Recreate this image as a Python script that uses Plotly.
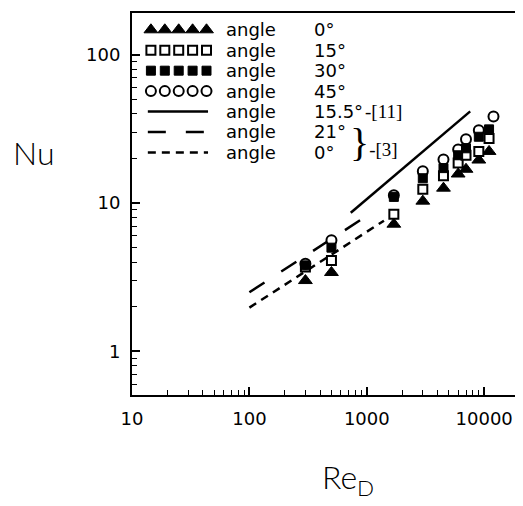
import plotly.graph_objects as go

# ---------------- data ----------------
RE = [300, 500, 1700, 3000, 4500, 6000, 7000, 9000, 11000]
NU_0 = [3.0, 3.4, 7.2, 10.3, 12.6, 15.7, 16.9, 19.5, 22.3]
NU_15 = [3.7, 4.1, 8.4, 12.4, 15.3, 18.6, 21.0, 22.3, 27.3]
NU_30 = [3.8, 5.0, 11.0, 14.7, 17.2, 21.0, 23.4, 28.0, 31.4]
RE_45 = [300, 500, 1700, 3000, 4500, 6000, 7000, 9000, 12000]
NU_45 = [3.9, 5.6, 11.3, 16.4, 19.7, 23.0, 26.9, 31.0, 38.4]

RE_SOLID = [730, 7600]      # angle 15.5°, ref [11]
NU_SOLID = [8.6, 41.5]
RE_LONG = [100, 1150]       # angle 21°, ref [3]
NU_LONG = [2.5, 8.8]
RE_SHORT = [100, 1400]      # angle 0°, ref [3]
NU_SHORT = [1.97, 7.6]

X_TICKS = [10, 100, 1000, 10000]
X_TICK_TEXT = ["10", "100", "1000", "10000"]
Y_TICKS = [1, 10, 100]
Y_TICK_TEXT = ["1", "10", "100"]

LEGEND_ANGLES = ["0°", "15°", "30°", "45°", "15.5°", "21°", "0°"]

# ---------------- style ----------------
FONT = "DejaVu Sans"
BLACK = "black"
LONG_DASH = "18px,20px"
SHORT_DASH = "8px,6px"

tri = dict(symbol="triangle-up", size=12, color=BLACK, line=dict(color=BLACK, width=1))
sq_open = dict(symbol="square", size=9, color="white", line=dict(color=BLACK, width=2))
sq_fill = dict(symbol="square", size=9, color=BLACK, line=dict(color=BLACK, width=1))
circ = dict(symbol="circle", size=10, color="white", line=dict(color=BLACK, width=2))

fig = go.Figure()

# data lines
fig.add_trace(go.Scatter(x=RE_SOLID, y=NU_SOLID, mode="lines",
                         line=dict(color=BLACK, width=2.5), showlegend=False))
fig.add_trace(go.Scatter(x=RE_LONG, y=NU_LONG, mode="lines",
                         line=dict(color=BLACK, width=2.5, dash=LONG_DASH), showlegend=False))
fig.add_trace(go.Scatter(x=RE_SHORT, y=NU_SHORT, mode="lines",
                         line=dict(color=BLACK, width=2.5, dash=SHORT_DASH), showlegend=False))

# data points
fig.add_trace(go.Scatter(x=RE, y=NU_0, mode="markers", marker=tri, showlegend=False))
fig.add_trace(go.Scatter(x=RE, y=NU_15, mode="markers", marker=sq_open, showlegend=False))
fig.add_trace(go.Scatter(x=RE_45, y=NU_45, mode="markers", marker=circ, showlegend=False))
fig.add_trace(go.Scatter(x=RE, y=NU_30, mode="markers", marker=sq_fill, showlegend=False))

# ---------------- hand-made legend on an overlay (fractional) axis ----------------
ROW0 = 0.956
ROW_STEP = 0.0535
rows = [ROW0 - i * ROW_STEP for i in range(7)]
SYM_X = [0.049 + 0.036 * k for k in range(5)]
LINE_X = [0.041, 0.197]
TEXT_X = 0.238
ANGLE_X = 0.466

for r, m in zip(rows[:4], [tri, sq_open, sq_fill, circ]):
    fig.add_trace(go.Scatter(x=SYM_X, y=[r] * 5, mode="markers", marker=m,
                             xaxis="x2", yaxis="y2", showlegend=False, hoverinfo="skip"))
for r, d in zip(rows[4:], ["solid", LONG_DASH, SHORT_DASH]):
    fig.add_trace(go.Scatter(x=LINE_X, y=[r, r], mode="lines",
                             line=dict(color=BLACK, width=2.5, dash=d),
                             xaxis="x2", yaxis="y2", showlegend=False, hoverinfo="skip"))

annotations = []
for r, a in zip(rows, LEGEND_ANGLES):
    annotations.append(dict(x=TEXT_X, y=r, xref="paper", yref="paper", text="angle",
                            xanchor="left", yanchor="middle", showarrow=False,
                            font=dict(family=FONT, size=18, color=BLACK)))
    annotations.append(dict(x=ANGLE_X, y=r, xref="paper", yref="paper", text=a,
                            xanchor="left", yanchor="middle", showarrow=False,
                            font=dict(family=FONT, size=18, color=BLACK)))
# references
annotations.append(dict(x=0.598, y=rows[4], xref="paper", yref="paper", text="-[11]",
                        xanchor="left", yanchor="middle", showarrow=False,
                        font=dict(family="Liberation Serif", size=19, color=BLACK)))
annotations.append(dict(x=0.560, y=(rows[5] + rows[6]) / 2, xref="paper", yref="paper",
                        text="<span style='font-size:40px'>}</span>-[3]",
                        xanchor="left", yanchor="middle", showarrow=False,
                        font=dict(family="Liberation Serif", size=19, color=BLACK)))
# axis titles
annotations.append(dict(x=-0.255, y=0.635, xref="paper", yref="paper", text="Nu",
                        xanchor="center", yanchor="middle", showarrow=False,
                        font=dict(family="Lato", size=32, color=BLACK, weight=300)))
annotations.append(dict(x=0.56, y=-0.22, xref="paper", yref="paper", text="Re<sub>D</sub>",
                        xanchor="center", yanchor="middle", showarrow=False,
                        font=dict(family="Lato", size=32, color=BLACK, weight=300)))

axis_common = dict(showline=True, linecolor=BLACK, linewidth=2, mirror=True,
                   ticks="inside", ticklen=8, tickwidth=1.5, tickcolor=BLACK,
                   showgrid=False, zeroline=False,
                   tickfont=dict(family=FONT, size=18, color=BLACK),
                   minor=dict(ticks="inside", ticklen=5, tickwidth=1.2, tickcolor=BLACK,
                              dtick="D1", showgrid=False))

# the page body adds an 8px offset, so the figure is 8px smaller on each side
fig.update_layout(
    width=515, height=498,
    margin=dict(l=124, r=5, t=3, b=111),
    paper_bgcolor="white", plot_bgcolor="white",
    showlegend=False,
    xaxis=dict(type="log", range=[1.0, 4.288], tickvals=X_TICKS, ticktext=X_TICK_TEXT,
               ticklabelstandoff=6, **axis_common),
    yaxis=dict(type="log", range=[-0.295, 2.282], tickvals=Y_TICKS, ticktext=Y_TICK_TEXT,
               ticklabelstandoff=6, **axis_common),
    xaxis2=dict(range=[0, 1], overlaying="x", anchor="y2", visible=False, domain=[0, 1]),
    yaxis2=dict(range=[0, 1], overlaying="y", anchor="x2", visible=False, domain=[0, 1]),
    annotations=annotations,
)

fig.write_html("out.html")
